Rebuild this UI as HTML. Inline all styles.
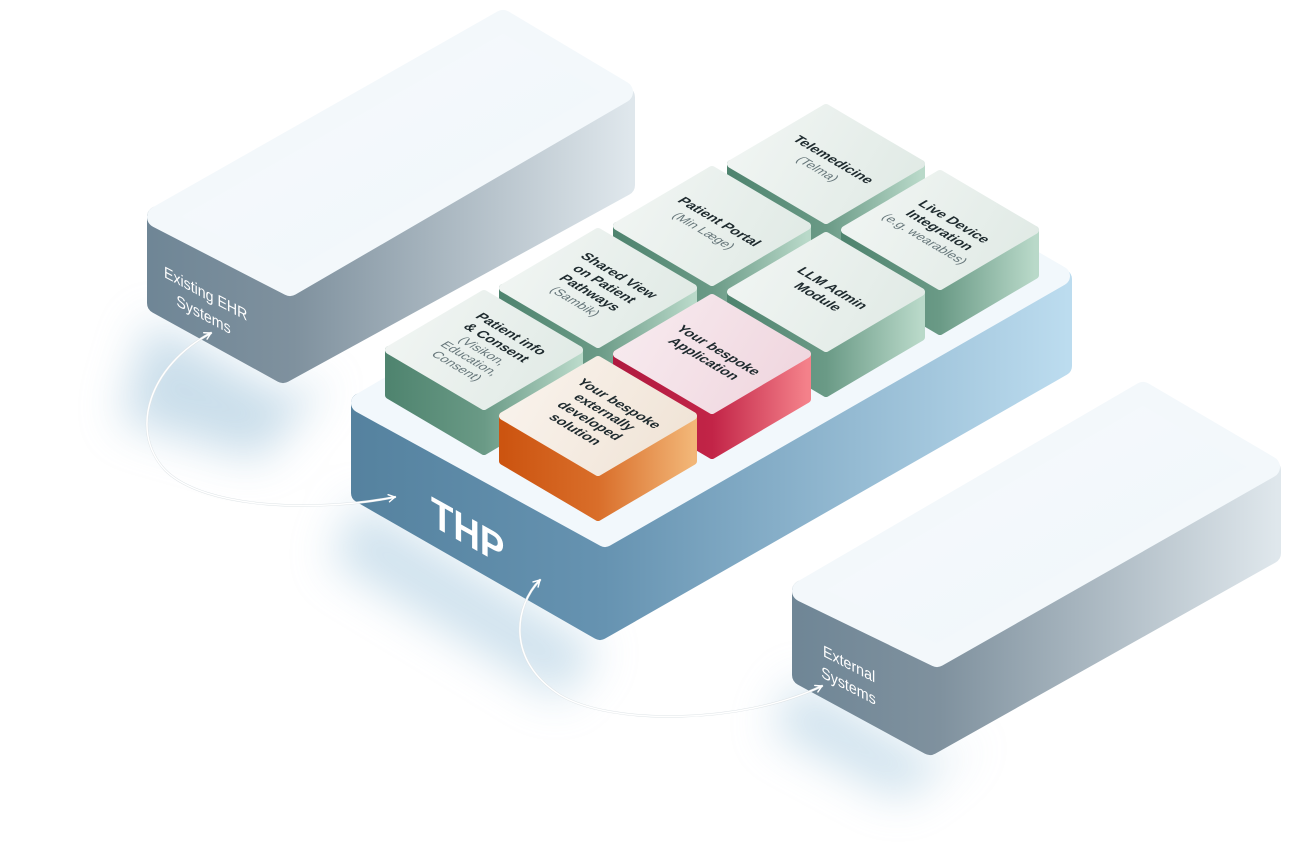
<!DOCTYPE html>
<html><head><meta charset="utf-8"><style>
html,body{margin:0;padding:0;background:#fff;width:1294px;height:851px;overflow:hidden}
svg{display:block}
.b{font-family:"Liberation Sans",sans-serif;font-weight:bold;font-size:14px;fill:#1e2a2e}
.l{font-family:"Liberation Sans",sans-serif;font-size:13px;fill:#66767a}
</style></head><body>
<svg width="1294" height="851" viewBox="0 0 1294 851" xmlns="http://www.w3.org/2000/svg">
<defs>
<filter id="blur" x="-50%" y="-50%" width="200%" height="200%"><feGaussianBlur stdDeviation="22"/></filter>
<linearGradient id="gSide" gradientUnits="userSpaceOnUse" x1="0" y1="0" x2="190" y2="0">
<stop offset="0" stop-color="#4f846f"/><stop offset="0.5" stop-color="#6a9a86"/><stop offset="1" stop-color="#b9d9c9"/></linearGradient>
<linearGradient id="gTop" gradientUnits="userSpaceOnUse" x1="0" y1="-56" x2="190" y2="56">
<stop offset="0" stop-color="#f2f6f4"/><stop offset="1" stop-color="#dfe9e4"/></linearGradient>
<linearGradient id="rSide" gradientUnits="userSpaceOnUse" x1="0" y1="0" x2="190" y2="0">
<stop offset="0" stop-color="#b01a40"/><stop offset="0.5" stop-color="#c22447"/><stop offset="1" stop-color="#f4818a"/></linearGradient>
<linearGradient id="rTop" gradientUnits="userSpaceOnUse" x1="0" y1="-56" x2="190" y2="56">
<stop offset="0" stop-color="#f8ecf0"/><stop offset="1" stop-color="#efd4dd"/></linearGradient>
<linearGradient id="oSide" gradientUnits="userSpaceOnUse" x1="0" y1="0" x2="190" y2="0">
<stop offset="0" stop-color="#cc5410"/><stop offset="0.5" stop-color="#d96e2a"/><stop offset="1" stop-color="#f2b677"/></linearGradient>
<linearGradient id="oTop" gradientUnits="userSpaceOnUse" x1="0" y1="-56" x2="190" y2="56">
<stop offset="0" stop-color="#faf4ee"/><stop offset="1" stop-color="#efe2d4"/></linearGradient>
<linearGradient id="pSide" gradientUnits="userSpaceOnUse" x1="355" y1="0" x2="1068" y2="0">
<stop offset="0" stop-color="#55829f"/><stop offset="0.35" stop-color="#6693b1"/><stop offset="1" stop-color="#bcdcef"/></linearGradient>
<linearGradient id="eSide" gradientUnits="userSpaceOnUse" x1="150" y1="0" x2="630" y2="0">
<stop offset="0" stop-color="#6f8696"/><stop offset="0.3" stop-color="#7f919e"/><stop offset="1" stop-color="#dfe7ec"/></linearGradient>
<linearGradient id="xSide" gradientUnits="userSpaceOnUse" x1="795" y1="0" x2="1277" y2="0">
<stop offset="0" stop-color="#6f8696"/><stop offset="0.3" stop-color="#7f919e"/><stop offset="1" stop-color="#dfe7ec"/></linearGradient>
<linearGradient id="bTop" x1="0" y1="0" x2="1" y2="1">
<stop offset="0" stop-color="#f8fbfd"/><stop offset="1" stop-color="#eef5fa"/></linearGradient>
<marker id="ah" viewBox="0 0 10 10" refX="8" refY="5" markerWidth="9" markerHeight="9" orient="auto-start-reverse" markerUnits="userSpaceOnUse">
<path d="M1,1 L8,5 L1,9" fill="none" stroke="#fff" stroke-width="1.6" stroke-linecap="round" stroke-linejoin="round"/></marker>
<g id="cg"><path d="M0,0 L95,56 L190,0 L190,45 L95,101 L0,45 Z" fill="url(#gSide)" stroke="url(#gSide)" stroke-width="8" stroke-linejoin="round"/><path d="M0,0 L95,-56 L190,0 L95,56 Z" fill="url(#gTop)" stroke="url(#gTop)" stroke-width="8" stroke-linejoin="round"/></g>
<g id="cr"><path d="M0,0 L95,56 L190,0 L190,45 L95,101 L0,45 Z" fill="url(#rSide)" stroke="url(#rSide)" stroke-width="8" stroke-linejoin="round"/><path d="M0,0 L95,-56 L190,0 L95,56 Z" fill="url(#rTop)" stroke="url(#rTop)" stroke-width="8" stroke-linejoin="round"/></g>
<g id="co"><path d="M0,0 L95,56 L190,0 L190,45 L95,101 L0,45 Z" fill="url(#oSide)" stroke="url(#oSide)" stroke-width="8" stroke-linejoin="round"/><path d="M0,0 L95,-56 L190,0 L95,56 Z" fill="url(#oTop)" stroke="url(#oTop)" stroke-width="8" stroke-linejoin="round"/></g>
</defs>

<g filter="url(#blur)" opacity="0.55">
<path d="M150,320 L283,395 L330,380 L260,460 L120,420 Z" fill="#9fc3da"/>
<path d="M360,500 L600,650 L560,700 L330,560 Z" fill="#a9cbe0"/>
<path d="M800,680 L930,760 L980,740 L900,800 L770,730 Z" fill="#a9cbe0"/>
</g>

<path d="M158,217 L290,291 L624,97 L624,185 L283,372 L158,303 Z" fill="url(#eSide)" stroke="url(#eSide)" stroke-width="22" stroke-linejoin="round"/>
<path d="M158,217 L503,21 L622,92 L290,285 Z" fill="url(#bTop)" stroke="#f3f8fb" stroke-width="22" stroke-linejoin="round"/>
<text transform="matrix(0.885,0.468,0,1,164,277)" font-family="Liberation Sans, sans-serif" font-size="16" fill="#fff"><tspan x="0" y="0">Existing EHR</tspan><tspan x="14" y="22">Systems</tspan></text>

<path d="M803,591 L937,664 L1270,470 L1270,553 L930,744 L803,675 Z" fill="url(#xSide)" stroke="url(#xSide)" stroke-width="22" stroke-linejoin="round"/>
<path d="M803,591 L1143,393 L1269,467 L937,656 Z" fill="url(#bTop)" stroke="#f3f8fb" stroke-width="22" stroke-linejoin="round"/>
<text transform="matrix(0.889,0.457,0,1,823,656)" font-family="Liberation Sans, sans-serif" font-size="16" fill="#fff"><tspan x="0" y="0">External</tspan><tspan x="-2" y="22">Systems</tspan></text>

<path d="M361,403 L605,545 L1062,279 L1062,366 L600,630 L361,493 Z" fill="url(#pSide)" stroke="url(#pSide)" stroke-width="20" stroke-linejoin="round"/>
<path d="M361,403 L818,136 L1060,276 L605,537 Z" fill="#f2f8fc" stroke="#f2f8fc" stroke-width="20" stroke-linejoin="round"/>
<text transform="matrix(0.873,0.489,0,1,431,525)" font-family="Liberation Sans, sans-serif" font-weight="bold" font-size="42" fill="#fff">THP</text>

<g transform="translate(731,164)"><use href="#cg"/>
<g transform="translate(95,0) matrix(0.861,0.508,-0.861,0.508,0,0)" text-anchor="middle"><text class="b" x="0" y="-4">Telemedicine</text><text class="l" x="0" y="14">(Telma)</text></g></g>

<g transform="translate(617,226)"><use href="#cg"/>
<g transform="translate(95,0) matrix(0.861,0.508,-0.861,0.508,0,0)" text-anchor="middle"><text class="b" x="0" y="-4">Patient Portal</text><text class="l" x="0" y="14">(Min Læge)</text></g></g>

<g transform="translate(845,230)"><use href="#cg"/>
<g transform="translate(95,0) matrix(0.861,0.508,-0.861,0.508,0,0)" text-anchor="middle"><text class="b" x="0" y="-12">Live Device</text><text class="b" x="0" y="5">Integration</text><text class="l" x="0" y="22">(e.g. wearables)</text></g></g>

<g transform="translate(503,288)"><use href="#cg"/>
<g transform="translate(95,0) matrix(0.861,0.508,-0.861,0.508,0,0)" text-anchor="middle"><text class="b" x="0" y="-20">Shared View</text><text class="b" x="0" y="-3">on Patient</text><text class="b" x="0" y="14">Pathways</text><text class="l" x="0" y="31">(Sambik)</text></g></g>

<g transform="translate(731,292)"><use href="#cg"/>
<g transform="translate(95,0) matrix(0.861,0.508,-0.861,0.508,0,0)" text-anchor="middle"><text class="b" x="0" y="-3">LLM Admin</text><text class="b" x="0" y="14">Module</text></g></g>

<g transform="translate(389,350)"><use href="#cg"/>
<g transform="translate(95,0) matrix(0.861,0.508,-0.861,0.508,0,0)" text-anchor="middle"><text class="b" x="0" y="-27">Patient info</text><text class="b" x="0" y="-10">&amp; Consent</text><text class="l" x="0" y="6">(Visikon,</text><text class="l" x="0" y="21">Education,</text><text class="l" x="0" y="36">Consent)</text></g></g>

<g transform="translate(617,354)"><use href="#cr"/>
<g transform="translate(95,0) matrix(0.861,0.508,-0.861,0.508,0,0)" text-anchor="middle"><text class="b" x="0" y="-3">Your bespoke</text><text class="b" x="0" y="14">Application</text></g></g>

<g transform="translate(503,416)"><use href="#co"/>
<g transform="translate(95,0) matrix(0.861,0.508,-0.861,0.508,0,0)" text-anchor="middle"><text class="b" x="0" y="-20">Your bespoke</text><text class="b" x="0" y="-3">externally</text><text class="b" x="0" y="14">developed</text><text class="b" x="0" y="31">solution</text></g></g>

<g fill="none" stroke-linecap="round">
<path d="M211,333 C150,365 128,430 165,470 C205,510 320,512 395,497" stroke="#dde3e6" stroke-width="2.4"/>
<path d="M211,333 C150,365 128,430 165,470 C205,510 320,512 395,497" stroke="#fff" stroke-width="1.5" marker-start="url(#ah)" marker-end="url(#ah)"/>
<path d="M540,580 C515,605 505,660 560,695 C610,725 740,725 822,686" stroke="#dde3e6" stroke-width="2.4"/>
<path d="M540,580 C515,605 505,660 560,695 C610,725 740,725 822,686" stroke="#fff" stroke-width="1.5" marker-start="url(#ah)" marker-end="url(#ah)"/>
</g>
</svg>
</body></html>
